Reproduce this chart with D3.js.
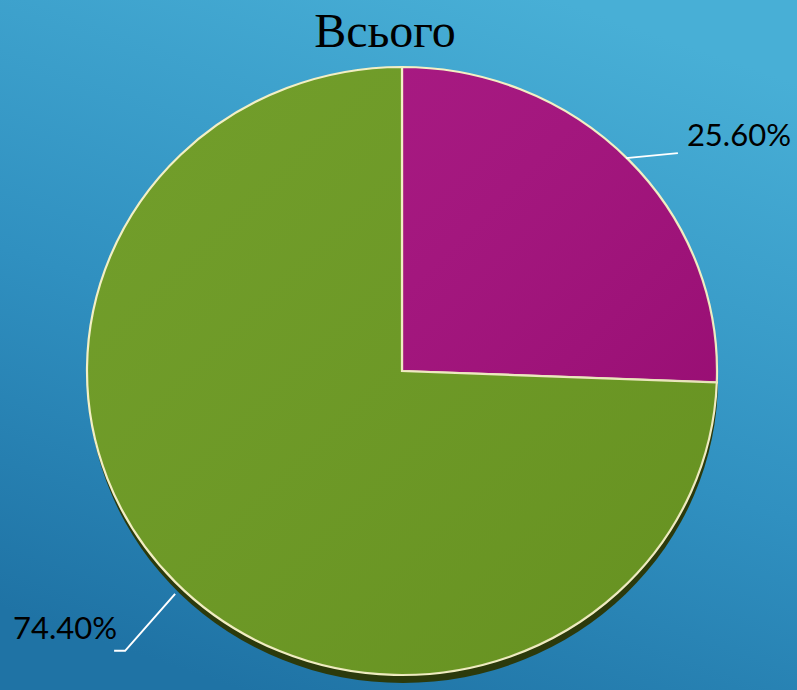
<!DOCTYPE html>
<html>
<head>
<meta charset="utf-8">
<script src="https://cdn.jsdelivr.net/npm/d3@7"></script>
<style>
  html, body { margin: 0; padding: 0; overflow: hidden; }
</style>
</head>
<body>
<div id="vis"></div>
<script>
const FRAME_WIDTH = 797;
const FRAME_HEIGHT = 690;

// data
const CATEGORIES = ["A", "B"];
const VALUES = [25.6, 74.4];
const LABELS = ["25.60%", "74.40%"];
const COLORS = ["#a3107c", "#6c9a22"];
const TITLE = "Всього";

const CX = 402, CY = 371, RX = 315, RY = 304;

const svg = d3.select("#vis")
  .append("svg")
  .attr("width", FRAME_WIDTH)
  .attr("height", FRAME_HEIGHT);

const defs = svg.append("defs");

// background gradient
const bg = defs.append("linearGradient")
  .attr("id", "bg")
  .attr("x1", "70%").attr("y1", "0%")
  .attr("x2", "30%").attr("y2", "100%");
bg.append("stop").attr("offset", "0%").attr("stop-color", "#48afd6");
bg.append("stop").attr("offset", "55%").attr("stop-color", "#3090c0");
bg.append("stop").attr("offset", "100%").attr("stop-color", "#1f73a5");

svg.append("rect")
  .attr("width", FRAME_WIDTH)
  .attr("height", FRAME_HEIGHT)
  .attr("fill", "url(#bg)");

// slice shading
const shade = defs.append("linearGradient")
  .attr("id", "shade")
  .attr("x1", "0%").attr("y1", "0%")
  .attr("x2", "100%").attr("y2", "100%");
shade.append("stop").attr("offset", "0%").attr("stop-color", "#fff").attr("stop-opacity", 0.04);
shade.append("stop").attr("offset", "100%").attr("stop-color", "#000").attr("stop-opacity", 0.06);

// title
svg.append("text")
  .attr("x", 385)
  .attr("y", 47)
  .attr("text-anchor", "middle")
  .attr("font-family", "Liberation Serif, Times New Roman, serif")
  .attr("font-size", "48px")
  .attr("fill", "#000")
  .text(TITLE);

const pie = d3.pie().sort(null).value(d => d)(VALUES);
const arc = d3.arc().innerRadius(0).outerRadius(RX);

// shadow of the pie
svg.append("ellipse")
  .attr("cx", CX + 1)
  .attr("cy", CY + 8)
  .attr("rx", RX)
  .attr("ry", RY)
  .attr("fill", "#2c3a0c");

const pieG = svg.append("g")
  .attr("transform", `translate(${CX},${CY}) scale(1,${RY / RX})`);

pieG.selectAll("path.slice")
  .data(pie)
  .enter().append("path")
  .attr("class", "slice")
  .attr("d", arc)
  .attr("fill", (d, i) => COLORS[i])
  .attr("stroke", "#f4f0c4")
  .attr("stroke-width", 2.2)
  .attr("vector-effect", "non-scaling-stroke");

pieG.selectAll("path.shade")
  .data(pie)
  .enter().append("path")
  .attr("class", "shade")
  .attr("d", arc)
  .attr("fill", "url(#shade)");

// labels with leader lines
function edgePoint(d) {
  const a = (d.startAngle + d.endAngle) / 2;
  return [CX + RX * Math.sin(a), CY - RY * Math.cos(a)];
}

const labelG = svg.append("g");

pie.forEach((d, i) => {
  const [px, py] = edgePoint(d);
  let pts, tx, ty, anchor;
  if (i === 0) {
    pts = [[px - 3, py - 2], [px + 49, py - 7]];
    tx = px + 58; ty = py - 14; anchor = "start";
  } else {
    pts = [[px, py + 12], [px - 50, py + 69], [px - 61, py + 69]];
    tx = px - 58; ty = py + 57; anchor = "end";
  }
  labelG.append("path")
    .attr("d", d3.line()(pts))
    .attr("fill", "none")
    .attr("stroke", "#fff")
    .attr("stroke-width", 2);
  labelG.append("text")
    .attr("x", tx)
    .attr("y", ty)
    .attr("text-anchor", anchor)
    .attr("font-family", "Lato, Noto Sans, sans-serif")
    .attr("font-size", "31px")
    .attr("fill", "#000")
    .text(LABELS[i]);
});
</script>
</body>
</html>
